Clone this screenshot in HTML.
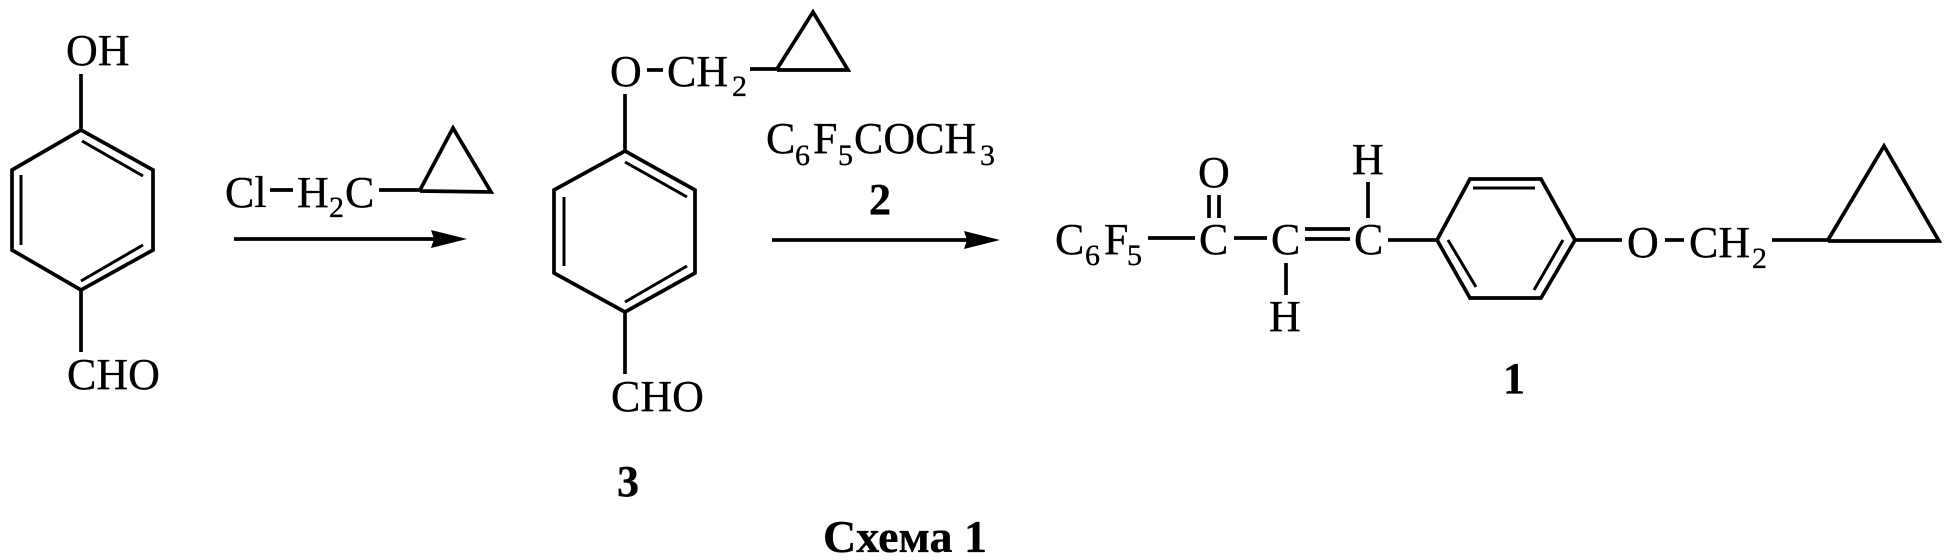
<!DOCTYPE html>
<html><head><meta charset="utf-8">
<style>
html,body{margin:0;padding:0;background:#fff}
svg{display:block}
text{font-family:"Liberation Serif",serif;font-size:44px;fill:#000;stroke:#000;stroke-width:.35}
.s{font-size:30px}
.b{font-weight:bold}
.l{fill:none;stroke:#000;stroke-width:3.7;stroke-linejoin:miter}
.t{fill:none;stroke:#000;stroke-width:3}
</style></head><body>
<svg width="1948" height="560" viewBox="0 0 1948 560" xmlns="http://www.w3.org/2000/svg">
<!-- left molecule -->
<text x="66" y="65">OH</text>
<path class="l" d="M81 74V130L153 170V250L81 290L12 250V170L81 130M81 290V352"/>
<path class="t" d="M82 141L143 176M21 175V245M81 281L143 245"/>
<text x="67" y="389">CHO</text>
<!-- reagent 1 -->
<text x="225" y="207">Cl</text>
<path class="l" d="M270 190H293"/>
<text x="297" y="207">H</text><text class="s" x="329" y="217">2</text><text x="345" y="207">C</text>
<path class="l" d="M379 190H420M420 190L453 128L491 192L420 191"/>
<path class="l" d="M234 239H435"/>
<path d="M467 239L431 230L434 239L431 248Z"/>
<!-- compound 3 -->
<text x="610" y="86">O</text>
<path class="l" d="M647 70H663"/>
<text x="667" y="86">CH</text><text class="s" x="732" y="96">2</text>
<path class="l" d="M750 69H778M777 69L813 12L848 70H777"/>
<path class="l" d="M625 94V151L695 190V273L625 312L554 273V190L625 151M625 312V374"/>
<path class="t" d="M625 162L687 197M564 197V266M625 302L687 266"/>
<text x="611" y="411">CHO</text>
<text class="b" x="617" y="496">3</text>
<!-- reagent 2 -->
<text x="766" y="153">C</text><text class="s" x="795" y="165">6</text><text x="813" y="153">F</text><text class="s" x="838" y="165">5</text><text x="854" y="153">COCH</text><text class="s" x="980" y="165">3</text>
<text class="b" x="869" y="214">2</text>
<path class="l" d="M772 240H970"/>
<path d="M1000 240L964 231L967 240L964 249Z"/>
<!-- product 1 -->
<text x="1055" y="254">C</text><text class="s" x="1085" y="265">6</text><text x="1104" y="254">F</text><text class="s" x="1127" y="265">5</text>
<path class="l" d="M1148 238H1195"/>
<text x="1199" y="254">C</text>
<text x="1198" y="187">O</text>
<path class="l" d="M1209 195V218M1219 195V218M1234 238H1267"/>
<text x="1271" y="254">C</text>
<path class="l" d="M1286 263V295"/>
<text x="1269" y="331">H</text>
<path class="l" d="M1305 229H1350M1305 239H1350"/>
<text x="1354" y="254">C</text>
<text x="1352" y="174">H</text>
<path class="l" d="M1368 182V218M1388 240H1437"/>
<path class="l" d="M1437 240L1470 179H1541L1575 240L1541 298H1470L1437 240M1575 240H1622"/>
<path class="t" d="M1448 240L1476 287M1473 188H1535M1563 240L1534 290"/>
<text x="1627" y="257">O</text>
<path class="l" d="M1665 240H1684"/>
<text x="1689" y="257">CH</text><text class="s" x="1752" y="268">2</text>
<path class="l" d="M1772 240H1828M1828 240L1884 146L1939 241H1828"/>
<text class="b" x="1503" y="393">1</text>
<!-- caption -->
<text class="b" x="823" y="552" style="font-size:46px">Схема 1</text>
</svg>
</body></html>
